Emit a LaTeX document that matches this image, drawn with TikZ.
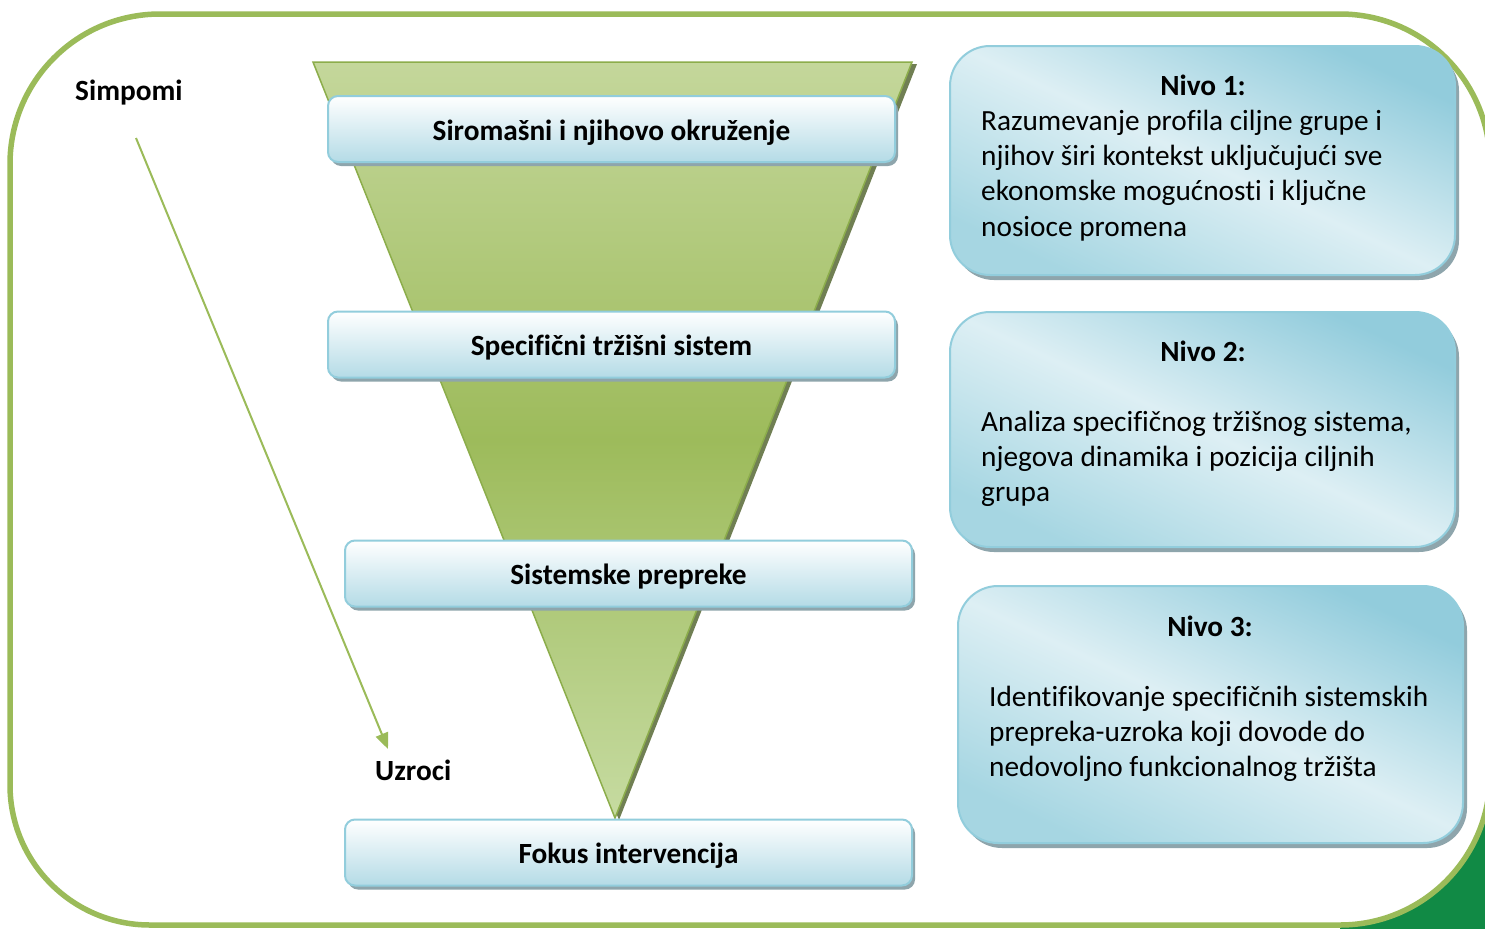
\documentclass[tikz,border=0pt]{standalone}
\usepackage{fontspec}
\setmainfont{Carlito}[Ligatures=NoCommon]
\usetikzlibrary{shadows,arrows.meta}
\definecolor{frameg}{HTML}{9BBB59}
\definecolor{darkg}{HTML}{118A45}
\definecolor{funtop}{HTML}{C4D79B}
\definecolor{funmid}{HTML}{9DBB5B}
\definecolor{funbot}{HTML}{C6DBA1}
\definecolor{funedge}{HTML}{8CAD4B}
\definecolor{boxedge}{HTML}{92CDDC}
\definecolor{boxbot}{HTML}{B4DBE6}
\definecolor{rdark}{HTML}{92CCDC}
\definecolor{rdark2}{HTML}{A6D6E2}
\definecolor{rlight}{HTML}{DDEFF4}
\definecolor{shadowc}{HTML}{8EA5AC}
\begin{document}
\begin{tikzpicture}[x=1pt,y=-1pt,
  lbox/.style={draw=boxedge, line width=2pt, rounded corners=10pt,
    top color=white, bottom color=boxbot,
    minimum width=567pt, minimum height=66pt, inner sep=0pt,
    text height=22pt, text depth=0pt,
    font=\fontsize{29.3}{35}\selectfont\bfseries,
    drop shadow={shadow xshift=3pt, shadow yshift=-4pt, fill=shadowc, opacity=1}},
  rbox/.style={draw=boxedge, line width=2pt, rounded corners=40pt,
    top color=rdark, bottom color=rdark2, middle color=rlight, shading angle=-25,
    minimum width=505pt, inner sep=0pt,
    drop shadow={shadow xshift=4pt, shadow yshift=-5pt, fill=shadowc, opacity=1}},
  ttl/.style={font=\fontsize{29.3}{35}\selectfont\bfseries, inner sep=0pt, anchor=base},
  body/.style={font=\fontsize{29.3}{35}\selectfont, inner sep=0pt, anchor=base west},
  lbl/.style={font=\fontsize{29.3}{35}\selectfont\bfseries, inner sep=0pt, anchor=base west}]
\clip (0,0) rectangle (1485,929);
\fill[white] (0,0) rectangle (1485,929);
% dark green corner
\fill[darkg] (1340,775) rectangle (1485,929);
% frame
\draw[frameg, line width=5.5pt, fill=white]
  (10,470) -- (10,164) arc[start angle=180, end angle=270, radius=150]
  -- (1340,14) arc[start angle=270, end angle=360, radius=150]
  -- (1490,775) arc[start angle=0, end angle=90, radius=150]
  -- (150,925) arc[start angle=90, end angle=180, radius=140]
  -- cycle;
% funnel
\fill[black!45!funedge, opacity=0.8] (318,64) -- (917,64) -- (619,820) -- cycle;
\shade[top color=funtop, bottom color=funbot, middle color=funmid, draw=funedge, line width=1.5pt]
  (313,62) -- (912,62) -- (615,818) -- cycle;
% arrow
\coordinate (as) at (136,138);
\coordinate (ae) at (388,749);
\draw[frameg, line width=2pt, -{Triangle[length=16pt,width=13pt]}] (as) -- (ae);
\node[lbl] (simp) at (75,100) {Simpomi};
\node[lbl] (uzr) at (375,780) {Uzroci};
% left boxes
\node[lbox] (b1) at (611.5,129) {Siromašni i njihovo okruženje};
\node[lbox] (b2) at (611.5,344.5) {Specifični tržišni sistem};
\node[lbox] (b3) at (628.5,573.5) {Sistemske prepreke};
\node[lbox] (b4) at (628.5,852.5) {Fokus intervencija};
% right boxes
\node[rbox, minimum height=229pt] (n1) at (1202.5,160.5) {};
\node[rbox, minimum height=235pt] (n2) at (1202.5,429.5) {};
\node[rbox, minimum height=257pt] (n3) at (1210.5,714.5) {};
\node[ttl] (n1t) at (1203,95) {Nivo 1:};
\node[body] (n1a) at (981,130) {Razumevanje profila ciljne grupe i};
\node[body] (n1b) at (981,165) {njihov širi kontekst uključujući sve};
\node[body] (n1c) at (981,200) {ekonomske mogućnosti i ključne};
\node[body] (n1d) at (981,236) {nosioce promena};
\node[ttl] (n2t) at (1203,361) {Nivo 2:};
\node[body] (n2a) at (981,431) {Analiza specifičnog tržišnog sistema,};
\node[body] (n2b) at (981,466) {njegova dinamika i pozicija ciljnih};
\node[body] (n2c) at (981,501) {grupa};
\node[ttl] (n3t) at (1210,636) {Nivo 3:};
\node[body] (n3a) at (989,706) {Identifikovanje specifičnih sistemskih};
\node[body] (n3b) at (989,741) {prepreka-uzroka koji dovode do};
\node[body] (n3c) at (989,776) {nedovoljno funkcionalnog tržišta};
\end{tikzpicture}
\end{document}
